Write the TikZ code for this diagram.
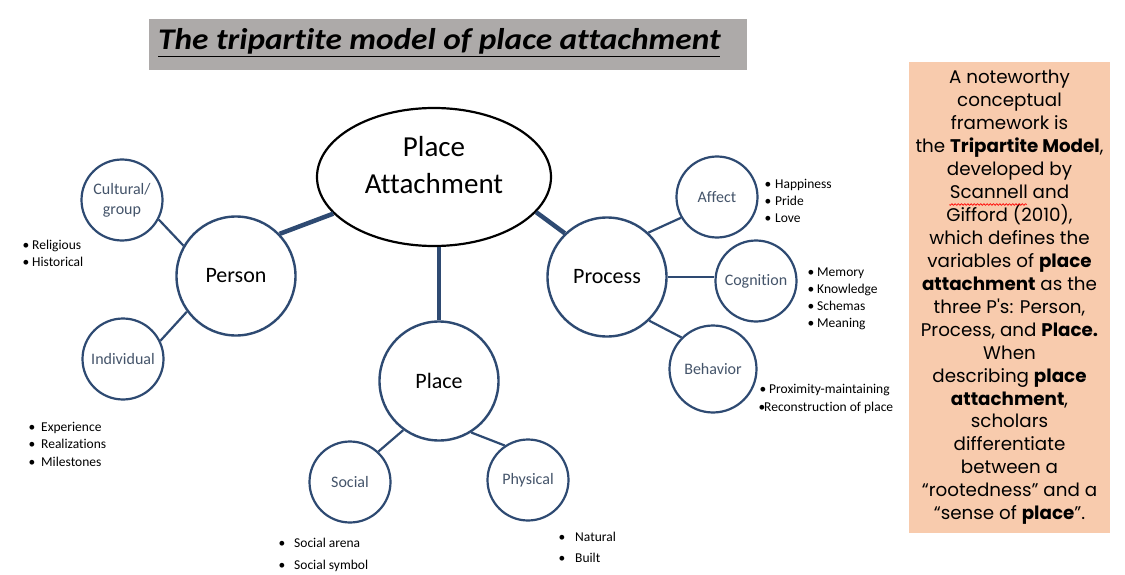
\documentclass[tikz,border=0pt]{standalone}
\usepackage{fontspec}
\setmainfont[Ligatures={TeX,NoCommon}]{Carlito}
\newfontfamily\boxfont{Poppins}
\usetikzlibrary{shapes.geometric}
\definecolor{navy}{HTML}{2E4A72}
\definecolor{labblue}{HTML}{44546A}
\definecolor{peach}{HTML}{F8CBAD}
\definecolor{titlegray}{HTML}{ADAAA9}
\newcommand{\bitem}[2]{\makebox[#1][l]{\textbullet}#2}
\begin{document}
\begin{tikzpicture}[x=1pt,y=-1pt,
  mainc/.style={circle, draw=navy, line width=2.4pt, minimum size=119pt, inner sep=0pt, font=\fontsize{22}{26}\selectfont},
  subc/.style={circle, draw=navy, line width=2.2pt, minimum size=81pt, inner sep=0pt, text=labblue, font=\fontsize{16}{20}\selectfont, align=center},
  thinlink/.style={draw=navy, line width=2.2pt},
  thicklink/.style={draw=navy, line width=4.5pt},
  bul/.style={anchor=base west, inner sep=0pt, font=\fontsize{13.5}{16}\selectfont}]
\useasboundingbox (0,0) rectangle (1125,575);
\fill[white] (0,0) rectangle (1125,575);

% title
\node[fill=titlegray, minimum width=598pt, minimum height=51pt, inner sep=0pt, anchor=north west] (titlebox) at (149,19) {};
\node[anchor=base west, inner sep=0pt, font=\fontsize{30}{34}\selectfont\bfseries\itshape] (title) at (158,50) {\scalebox{1.11}[1]{\underline{The tripartite model of place attachment}}};

% central ellipse
\node[ellipse, draw=black, line width=2.2pt, minimum width=234pt, minimum height=138pt, inner sep=0pt] (pa) at (434,177) {};
\node[font=\fontsize{29}{37}\selectfont, align=center, inner sep=0pt] (patext) at (434,165) {Place\\Attachment};

% main circles
\node[mainc] (person) at (236,276) {Person};
\node[mainc] (process) at (607,277) {Process};
\node[mainc] (place) at (439,381) {Place};

% sub circles
\node[subc] (cult) at (122,200) {Cultural/\\group};
\node[subc] (indiv) at (123,359) {Individual};
\node[subc] (social) at (350,482) {Social};
\node[subc] (phys) at (528,480) {Physical};
\node[subc] (affect) at (717,197) {Affect};
\node[subc] (cog) at (756,281) {Cognition};
\node[subc, minimum size=87pt] (behav) at (713,369) {Behavior};

% thick links
\draw[thicklink] (pa.200) -- (person.44);
\draw[thicklink] (pa.-19) -- (process.134);
\draw[thicklink] (place.north |- pa.south) -- (place.north);

% thin links
\draw[thinlink] (cult.-28) -- (person.150);
\draw[thinlink] (indiv.26) -- (person.216);
\draw[thinlink] (social.47) -- (place.234);
\draw[thinlink] (phys.124) -- (place.-58);
\draw[thinlink] (affect.210) -- (process.47);
\draw[thinlink] (process.east) -- (process.east -| cog.west);
\draw[thinlink] (behav.135) -- (process.-46);

% bullet lists
\node[bul] (b1) at (22.5,249.5) {\bitem{9.5pt}{Religious}};
\node[bul] (b2) at (22.5,266.5) {\bitem{9.5pt}{Historical}};
\node[bul] (b3) at (28.5,431.5) {\bitem{12.5pt}{Experience}};
\node[bul] (b4) at (28.5,448.5) {\bitem{12.5pt}{Realizations}};
\node[bul] (b5) at (28.5,466) {\bitem{12.5pt}{Milestones}};
\node[bul] (b6) at (764.5,188.5) {\bitem{10.5pt}{Happiness}};
\node[bul] (b7) at (764.5,205.5) {\bitem{10.5pt}{Pride}};
\node[bul] (b8) at (764.5,222.5) {\bitem{10.5pt}{Love}};
\node[bul] (b9) at (807.5,276.5) {\bitem{9.5pt}{Memory}};
\node[bul] (b10) at (807.5,293.5) {\bitem{9.5pt}{Knowledge}};
\node[bul] (b11) at (807.5,310.5) {\bitem{9.5pt}{Schemas}};
\node[bul] (b12) at (807.5,327.5) {\bitem{9.5pt}{Meaning}};
\node[bul] (b13) at (759.5,393.5) {\bitem{9.5pt}{Proximity-maintaining}};
\node[bul] (b14) at (758.5,411) {\bitem{5.5pt}{Reconstruction of place}};
\node[bul] (b15) at (278.5,547.5) {\bitem{15.5pt}{Social arena}};
\node[bul] (b16) at (278.5,569.5) {\bitem{15.5pt}{Social symbol}};
\node[bul] (b17) at (558.5,541.5) {\bitem{16.5pt}{Natural}};
\node[bul] (b18) at (558.5,562.5) {\bitem{16.5pt}{Built}};

% right text box
\node[fill=peach, anchor=north west, minimum width=201pt, minimum height=471pt, inner sep=0pt] (notebox) at (909,62) {};
\node[font=\boxfont\fontsize{18.3}{22.95}\selectfont, align=center, anchor=north, inner sep=0pt] (note) at (1009.5,70) {A noteworthy\\conceptual\\framework is\\the \textbf{Tripartite Model},\\developed by\\Scannell and\\Gifford (2010),\\which defines the\\variables of \textbf{place}\\\textbf{attachment} as the\\three P\symbol{"0027}s: Person,\\Process, and \textbf{Place.}\\When\\describing \textbf{place}\\\textbf{attachment},\\scholars\\differentiate\\between a\\“rootedness” and a\\“sense of \textbf{place}”.};
\draw[red, line width=0.7pt, line join=round] plot[domain=0:77, samples=97] ({949.5+\x}, {204.5+0.9*sin(\x*112.5)});
\end{tikzpicture}
\end{document}
